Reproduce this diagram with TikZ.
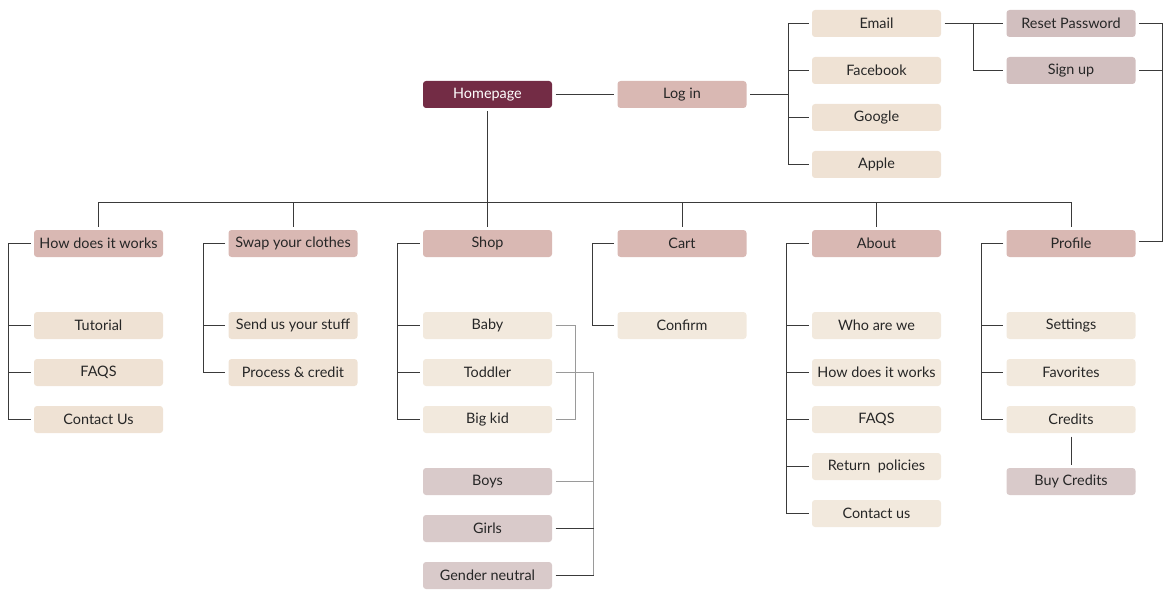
\documentclass[tikz,border=0pt]{standalone}
\usepackage{fontspec}
\setmainfont{Lato}
\usetikzlibrary{calc}

\definecolor{homecolor}{HTML}{732C45}
\definecolor{pagecolor}{HTML}{D9B8B3}
\definecolor{leafcolor}{HTML}{EFE2D4}
\definecolor{lightcolor}{HTML}{F2E9DD}
\definecolor{accountcolor}{HTML}{D2BFBF}
\definecolor{filtercolor}{HTML}{D9CACA}
\definecolor{linkcolor}{HTML}{3A3A3A}
\definecolor{linklight}{HTML}{9A9A9A}

\begin{document}
\begin{tikzpicture}[x=1pt,y=-1pt,
  box/.style={rectangle,rounded corners=3pt,minimum width=129pt,minimum height=27pt,
    inner sep=0pt,outer sep=3.5pt,font=\fontsize{14.4}{16}\selectfont,text=black!85},
  homebox/.style={box,fill=homecolor,text=white},
  pagebox/.style={box,fill=pagecolor},
  leafbox/.style={box,fill=leafcolor},
  lightbox/.style={box,fill=lightcolor},
  accountbox/.style={box,fill=accountcolor},
  filterbox/.style={box,fill=filtercolor},
  link/.style={draw=linkcolor,line width=1pt},
  linklt/.style={draw=linklight,line width=1pt}]
\useasboundingbox (0,0) rectangle (1176,599);

% top
\node[homebox] (home) at (487.5,94.5) {Homepage};
\node[pagebox] (login) at (682,94.5) {Log in};
\node[leafbox] (email) at (876.5,23.5) {Email};
\node[leafbox] (facebook) at (876.5,70.5) {Facebook};
\node[leafbox] (google) at (876.5,117.5) {Google};
\node[leafbox] (apple) at (876.5,164.5) {Apple};
\node[accountbox] (reset) at (1071,23.5) {Reset Password};
\node[accountbox] (signup) at (1071,70.5) {Sign up};

% sections
\node[pagebox] (howto) at (98.5,243.5) {How does it works};
\node[pagebox] (swap) at (293,243.5) {Swap your clothes};
\node[pagebox] (shop) at (487.5,243.5) {Shop};
\node[pagebox] (cart) at (682,243.5) {Cart};
\node[pagebox] (about) at (876.5,243.5) {About};
\node[pagebox] (profile) at (1071,243.5) {Profile};

% how does it works
\node[leafbox] (tutorial) at (98.5,325.5) {Tutorial};
\node[leafbox] (faqs) at (98.5,372.5) {FAQS};
\node[leafbox] (contact) at (98.5,419.5) {Contact Us};

% swap your clothes
\node[leafbox] (send) at (293,325.5) {Send us your stuff};
\node[leafbox] (process) at (293,372.5) {Process \& credit};

% shop
\node[lightbox] (baby) at (487.5,325.5) {Baby};
\node[lightbox] (toddler) at (487.5,372.5) {Toddler};
\node[lightbox] (bigkid) at (487.5,419.5) {Big kid};
\node[filterbox] (boys) at (487.5,481.5) {Boys};
\node[filterbox] (girls) at (487.5,528.5) {Girls};
\node[filterbox] (neutral) at (487.5,575.5) {Gender neutral};

% cart
\node[lightbox] (confirm) at (682,325.5) {Confirm};

% about
\node[lightbox] (who) at (876.5,325.5) {Who are we};
\node[lightbox] (abouthow) at (876.5,372.5) {How does it works};
\node[lightbox] (aboutfaqs) at (876.5,419.5) {FAQS};
\node[lightbox] (return) at (876.5,466.5) {Return\ \ policies};
\node[lightbox] (aboutcontact) at (876.5,513.5) {Contact us};

% profile
\node[lightbox] (settings) at (1071,325.5) {Settings};
\node[lightbox] (favorites) at (1071,372.5) {Favorites};
\node[lightbox] (credits) at (1071,419.5) {Credits};
\node[filterbox] (buy) at (1071,481.5) {Buy Credits};

% log in
\draw[link] (home) -- (login);
\coordinate (lk) at ([xshift=-20pt]email.west);
\draw[link] (login.east) -- (lk |- login.east);
\draw[link] (email.west) -- (lk) |- (apple.west);
\foreach \n in {facebook,google}
  \draw[link] (\n.west) -- (lk |- \n.west);
\draw[link] (email) -- (reset) coordinate[pos=.5] (ek);
\draw[link] (ek) |- (signup.west);
\draw[link] (reset.east) -- ++(23,0) coordinate (rk) |- ([yshift=2pt]profile.east);
\draw[link] (signup.east) -- (rk |- signup.east);

% bus
\coordinate (bus) at (0,202.5);
\draw[link] (home) -- (shop);
\draw[link] (howto.north) -- (howto.north |- bus) -- (profile.north |- bus) -- (profile.north);
\foreach \n in {swap,cart,about}
  \draw[link] (\n.north) -- (\n.north |- bus);

% section brackets
\foreach \s/\kids in {howto/{tutorial,faqs,contact},swap/{send,process},
    shop/{baby,toddler,bigkid},cart/{confirm},
    about/{who,abouthow,aboutfaqs,return,aboutcontact},profile/{settings,favorites,credits}}
  \foreach \n in \kids
    \draw[link] (\s.west) -- ++(-22,0) |- (\n.west);

% shop filters
\draw[linklt] (baby.east) -- ++(20,0) |- (bigkid.east);
\draw[linklt] (toddler.east) -- ++(38,0) coordinate (tk) |- (boys.east);
\draw[linklt] (tk |- boys.east) -- (tk |- neutral.east);
\draw[link] (girls.east) -- (tk |- girls.east);
\draw[link] (neutral.east) -- (tk |- neutral.east);

\draw[link] (credits) -- (buy);
\end{tikzpicture}
\end{document}
